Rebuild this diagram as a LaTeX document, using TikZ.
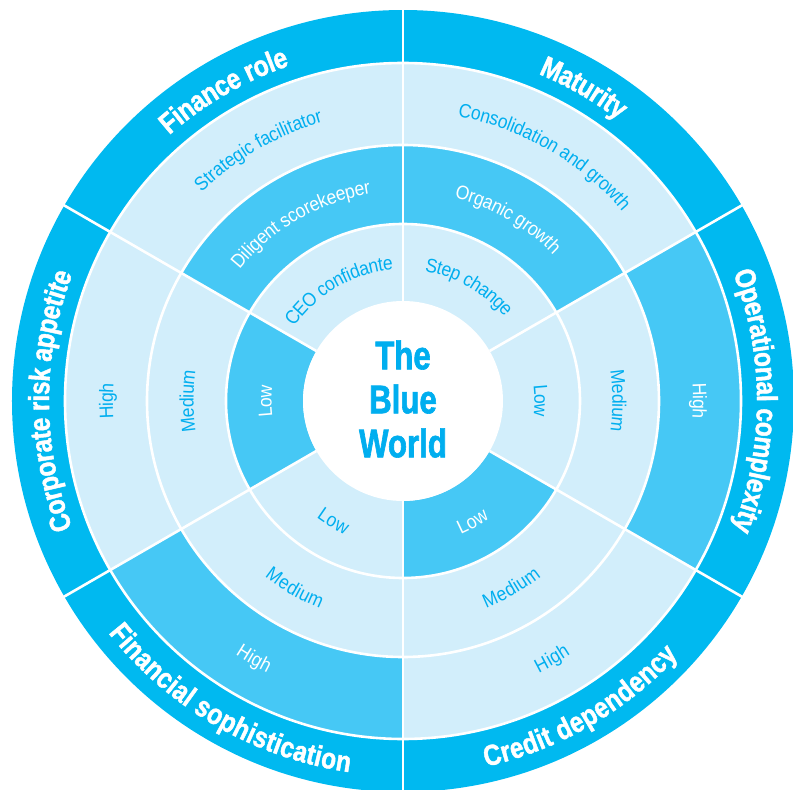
\documentclass[tikz,border=0pt]{standalone}
\usepackage{fontspec}
\setmainfont{Liberation Sans}
\newfontfamily\ringfont[FakeStretch=0.9]{Liberation Sans}
\newfontfamily\bandfont[FakeStretch=0.84,FakeBold=1.5]{Liberation Sans Bold}
\newfontfamily\hubfont[FakeStretch=0.78,FakeBold=1.5]{Liberation Sans Bold}
\usetikzlibrary{decorations.text}

\definecolor{bandblue}{RGB}{0,185,240}
\definecolor{midblue}{RGB}{70,200,245}
\definecolor{paleblue}{RGB}{210,238,251}
\definecolor{textblue}{RGB}{0,174,239}

% one cell of the wheel: colour, start angle, end angle, inner and outer radius
\newcommand{\wheelcell}[5]{\fill[#1] (#2:#4) arc (#2:#3:#4) -- (#3:#5) arc (#3:#2:#5) -- cycle;}

\tikzset{
  ringlabel/.style 2 args={decorate, decoration={text along path, text align=center, raise=-7pt,
      text={|\ringfont\fontsize{19.5}{20}\selectfont\color{#1}|#2}}},
  bandlabel/.style={decorate, decoration={text along path, text align=center, raise=-10.5pt,
      text={|\bandfont\fontsize{29}{30}\selectfont\color{white}|#1}}},
  divider/.style={white, line width=2.6pt}
}

\begin{document}
\begin{tikzpicture}[x=1pt,y=1pt]
    \useasboundingbox (-403,-389) rectangle (390,401);

    \fill[bandblue] (0,0) circle (391);
    \fill[paleblue] (0,0) circle (338);

    % highlighted cells
    \wheelcell{midblue}{90}{150}{177}{256}
    \wheelcell{midblue}{30}{90}{177}{256}
    \wheelcell{midblue}{-30}{30}{256}{338}
    \wheelcell{midblue}{-90}{-30}{100}{177}
    \wheelcell{midblue}{210}{270}{256}{338}
    \wheelcell{midblue}{150}{210}{100}{177}

    % white separators
    \foreach \r in {177,256,338}
        \draw[divider] (0,0) circle (\r);
    \foreach \a in {90,30,-30,-90,210,150}
        \draw[divider] (\a:100) -- (\a:395);

    \fill[white] (0,0) circle (100);
    \node[text=textblue, font={\hubfont\fontsize{40}{44}\selectfont}, align=center] (hub) at (0,2) {The\\Blue\\World};

    % Finance role
    \path[ringlabel={textblue}{CEO confidante}] (150:138.5) arc (150:90:138.5);
    \path[ringlabel={white}{Diligent scorekeeper}] (150:216.5) arc (150:90:216.5);
    \path[ringlabel={textblue}{Strategic facilitator}] (150:297) arc (150:90:297);
    \path[bandlabel={Finance role}] (150:364.5) arc (150:90:364.5);

    % Maturity
    \path[ringlabel={textblue}{Step change}] (90:138.5) arc (90:30:138.5);
    \path[ringlabel={white}{Organic growth}] (90:216.5) arc (90:30:216.5);
    \path[ringlabel={textblue}{Consolidation and growth}] (90:297) arc (90:30:297);
    \path[bandlabel={Maturity}] (90:364.5) arc (90:30:364.5);

    % Operational complexity
    \path[ringlabel={textblue}{Low}] (30:138.5) arc (30:-30:138.5);
    \path[ringlabel={textblue}{Medium}] (30:216.5) arc (30:-30:216.5);
    \path[ringlabel={white}{High}] (30:297) arc (30:-30:297);
    \path[bandlabel={Operational complexity}] (30:364.5) arc (30:-30:364.5);

    % Credit dependency
    \path[ringlabel={white}{Low}] (-90:138.5) arc (-90:-30:138.5);
    \path[ringlabel={textblue}{Medium}] (-90:216.5) arc (-90:-30:216.5);
    \path[ringlabel={textblue}{High}] (-90:297) arc (-90:-30:297);
    \path[bandlabel={Credit dependency}] (-90:364.5) arc (-90:-30:364.5);

    % Financial sophistication
    \path[ringlabel={textblue}{Low}] (210:138.5) arc (210:270:138.5);
    \path[ringlabel={textblue}{Medium}] (210:216.5) arc (210:270:216.5);
    \path[ringlabel={white}{High}] (210:297) arc (210:270:297);
    \path[bandlabel={Financial sophistication}] (210:364.5) arc (210:270:364.5);

    % Corporate risk appetite
    \path[ringlabel={white}{Low}] (210:138.5) arc (210:150:138.5);
    \path[ringlabel={textblue}{Medium}] (210:216.5) arc (210:150:216.5);
    \path[ringlabel={textblue}{High}] (210:297) arc (210:150:297);
    \path[bandlabel={Corporate risk appetite}] (210:364.5) arc (210:150:364.5);
\end{tikzpicture}
\end{document}
